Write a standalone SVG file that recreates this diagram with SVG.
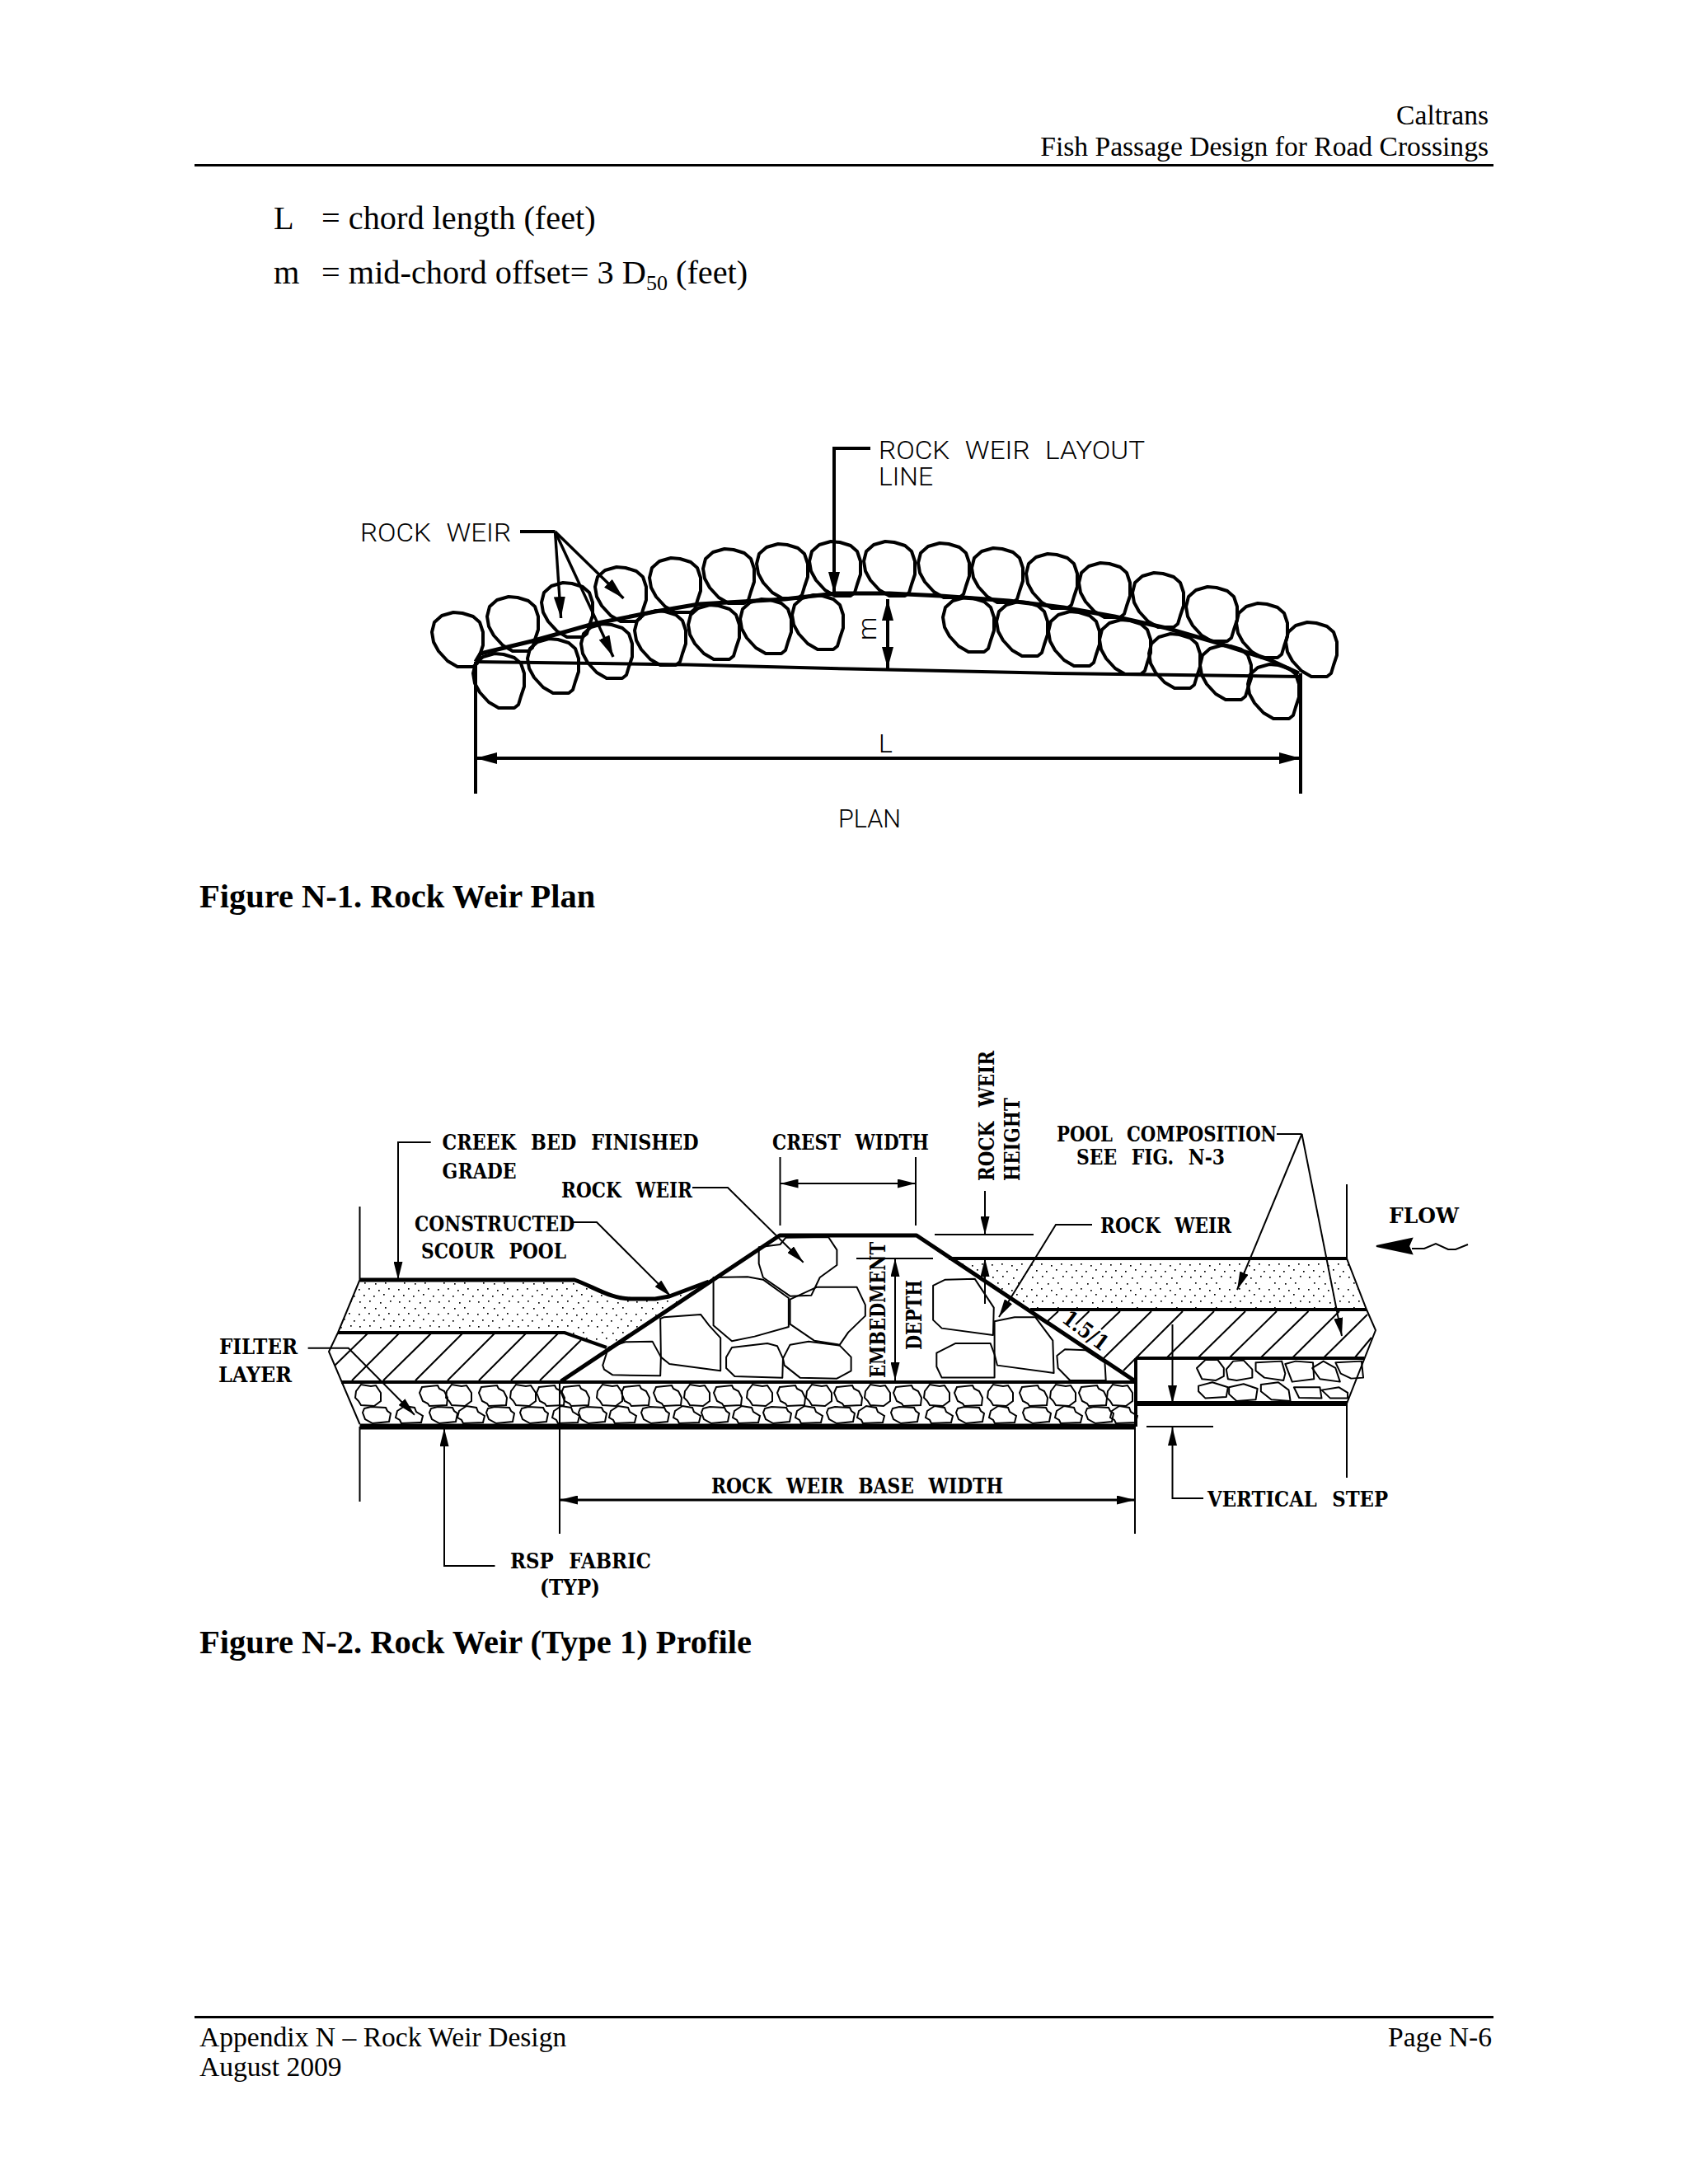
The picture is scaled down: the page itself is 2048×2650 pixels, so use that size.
<svg xmlns="http://www.w3.org/2000/svg" width="2048" height="2650" viewBox="0 0 2048 2650">
<style>
.pg{font-family:"Liberation Serif","Times New Roman",serif;fill:#000}
.hd{font-size:33.6px}.bd{font-size:40.3px}.cap{font-size:40.5px;font-weight:bold}
.pl{font-family:Roboto,"Liberation Sans",Arial,sans-serif;font-weight:300;font-size:32px;fill:#000;word-spacing:10px}
.cd{font-family:"DejaVu Serif",serif;font-weight:bold;font-size:26px;fill:#000;word-spacing:12px}
.rk{fill:none;stroke:#000;stroke-width:4;stroke-linejoin:round}
.th{fill:none;stroke:#000;stroke-width:2}
.md{fill:none;stroke:#000;stroke-width:3.4}
.wd{fill:none;stroke:#000;stroke-width:4}
.hv{fill:none;stroke:#000;stroke-width:5;stroke-linejoin:round}
.sr{fill:none;stroke:#000;stroke-width:2;stroke-linejoin:round;vector-effect:non-scaling-stroke}
</style>
<defs>
<marker id="ah" viewBox="0 0 26 14" refX="26" refY="7" markerWidth="26" markerHeight="14" markerUnits="userSpaceOnUse" orient="auto-start-reverse"><path d="M0 0L26 7L0 14Z"/></marker>
<marker id="ahs" viewBox="0 0 24 12" refX="24" refY="6" markerWidth="22" markerHeight="11" markerUnits="userSpaceOnUse" orient="auto-start-reverse"><path d="M0 0L24 6L0 12Z"/></marker>
<pattern id="sand" width="48" height="30" patternUnits="userSpaceOnUse"><g fill="#000"><rect x="3" y="4" width="1.7" height="1.7"/><rect x="15" y="3" width="1.7" height="1.7"/><rect x="27" y="5" width="1.7" height="1.7"/><rect x="39" y="3" width="1.7" height="1.7"/><rect x="9" y="11" width="1.7" height="1.7"/><rect x="21" y="12" width="1.7" height="1.7"/><rect x="33" y="10" width="1.7" height="1.7"/><rect x="45" y="12" width="1.7" height="1.7"/><rect x="4" y="19" width="1.7" height="1.7"/><rect x="16" y="18" width="1.7" height="1.7"/><rect x="29" y="20" width="1.7" height="1.7"/><rect x="41" y="18" width="1.7" height="1.7"/><rect x="10" y="26" width="1.7" height="1.7"/><rect x="23" y="27" width="1.7" height="1.7"/><rect x="35" y="26" width="1.7" height="1.7"/></g></pattern>
<path id="pr" class="rk" d="M26 0L37 1L50 5L58 12L62 24L62 40L58 52L55 62L50 66L31 66L19 59L8 47L2 36L0 24L3 12L12 4Z"/>
<path id="ra" class="th" d="M3 3L22 1L24 5L30 8L34 16L33 25L12 26L10 23L4 20L0 10Z"/>
<path id="rb" class="th" d="M2 8L8 0L20 2L26 1L32 10L32 20L24 26L8 25L5 20L1 16Z"/>
<path id="rc" class="th" d="M2 3L10 1L28 2L30 6L34 9L32 19L12 21L3 16L0 8Z"/>
<path id="rd" class="th" d="M3 6L12 0L24 2L26 7L34 12L32 20L8 21L6 17L1 14Z"/>
</defs>
<rect width="2048" height="2650" fill="#fff"/>

<g id="header" class="pg hd">
<text x="1806" y="151" text-anchor="end">Caltrans</text>
<text x="1806" y="189" text-anchor="end">Fish Passage Design for Road Crossings</text>
<rect x="236" y="199" width="1576" height="3" fill="#000"/>
</g>
<g id="definitions" class="pg bd">
<text x="332" y="278">L</text><text x="390" y="278">= chord length (feet)</text>
<text x="332" y="344">m</text><text x="390" y="344">= mid-chord offset= 3 D<tspan font-size="26" dy="8">50</tspan><tspan dy="-8"> (feet)</tspan></text>
</g>

<g id="plan-rocks-upstream">
<use href="#pr" x="524" y="743"/><use href="#pr" x="591" y="724"/><use href="#pr" x="657" y="707"/><use href="#pr" x="722" y="688"/><use href="#pr" x="788" y="677"/><use href="#pr" x="853" y="666"/><use href="#pr" x="918" y="660"/><use href="#pr" x="982" y="657"/><use href="#pr" x="1048" y="657"/><use href="#pr" x="1114" y="659"/><use href="#pr" x="1179" y="665"/><use href="#pr" x="1245" y="672"/><use href="#pr" x="1309" y="683"/><use href="#pr" x="1374" y="695"/><use href="#pr" x="1439" y="712"/><use href="#pr" x="1500" y="732"/><use href="#pr" x="1560" y="755"/>
</g>
<g id="plan-rocks-downstream">
<use href="#pr" x="574" y="793"/><use href="#pr" x="640" y="775"/><use href="#pr" x="705" y="757"/><use href="#pr" x="770" y="741"/><use href="#pr" x="835" y="734"/><use href="#pr" x="898" y="727"/><use href="#pr" x="961" y="722"/><use href="#pr" x="1144" y="725"/><use href="#pr" x="1209" y="730"/><use href="#pr" x="1272" y="742"/><use href="#pr" x="1334" y="752"/><use href="#pr" x="1394" y="769"/><use href="#pr" x="1456" y="783"/><use href="#pr" x="1514" y="806"/>
</g>
<g id="plan-lines">
<path class="hv" d="M577 803L583 793L645 778L720 757L795 742L848 733L952 727L1014 720L1079 720L1141 723L1224 729L1290 737L1352 748L1415 762L1477 780L1539 800L1576 817"/>
<path class="wd" d="M577 803L834 806.5L1030 811.5L1280 817L1578 821"/>
<path class="wd" d="M577 803V963M1578 817V963"/>
</g>
<g id="plan-labels">
<text class="pl" x="437" y="657" textLength="183" lengthAdjust="spacingAndGlyphs">ROCK WEIR</text>
<text class="pl" x="1066" y="556.5" textLength="323" lengthAdjust="spacingAndGlyphs">ROCK WEIR LAYOUT</text>
<text class="pl" x="1066" y="589" textLength="66" lengthAdjust="spacingAndGlyphs">LINE</text>
<text class="pl" transform="translate(1063 777) rotate(-90)">m</text>
<text class="pl" x="1066" y="913">L</text>
<text class="pl" x="1017" y="1004" textLength="76" lengthAdjust="spacingAndGlyphs">PLAN</text>
</g>
<g id="plan-connectors">
<path class="wd" d="M631 645H673.5"/>
<path class="md" marker-end="url(#ah)" d="M673.5 645L680.6 750"/>
<path class="md" marker-end="url(#ah)" d="M673.5 645L744 797"/>
<path class="md" marker-end="url(#ah)" d="M673.5 645L756.5 726"/>
<path class="wd" marker-end="url(#ah)" d="M1056 544H1012V720"/>
<path class="wd" marker-start="url(#ah)" marker-end="url(#ah)" d="M1077 727V811"/>
<path class="wd" marker-start="url(#ah)" marker-end="url(#ah)" d="M577 920H1578"/>
</g>
<text id="caption-1" class="pg cap" x="242" y="1101">Figure N-1. Rock Weir Plan</text>

<g id="profile-layers">
<path fill="url(#sand)" d="M436.5 1553H697L766 1576H801L812 1573L860 1555L736 1635L685 1617H410Z"/>
<path fill="url(#sand)" d="M1151 1527H1634L1658 1589H1250Z"/>
<g class="th">
<path d="M436.5 1464V1553L410 1617L399 1640L436.5 1728"/>
<path d="M1634 1437V1527L1658 1589L1669 1614L1634 1703V1793"/>
<path d="M446 1618L406 1657M484 1618L427 1675M523 1618L465 1675M561 1618L504 1675M600 1618L543 1675M638 1618L581 1675M677 1618L620 1675M705 1626L655 1675"/>
<path d="M1284 1591L1271 1603M1321.5 1591L1305 1607M1359 1591L1336 1613M1397 1591L1339 1648M1435 1591L1363 1663M1473 1591L1416 1647M1511 1591L1454 1647M1549 1591L1492 1647M1587.5 1591L1530 1647M1625 1591L1568.5 1647M1659 1595L1606.4 1647M1664 1623L1644 1647"/>
</g>
<path class="hv" d="M436.5 1553H697C720 1561 740 1576 766 1576H795L812 1573L860 1555"/>
<path class="hv" d="M680.6 1676L946 1499H1112L1376 1675"/>
<path class="wd" d="M410 1617H685L736 1635"/>
<path class="wd" d="M414 1677H1376"/>
<path d="M436.5 1731H1376" fill="none" stroke="#000" stroke-width="7"/>
<path class="wd" d="M1151 1527H1634M1250 1589H1658M1378 1648H1655M1378 1648V1731"/>
<path d="M1378 1703H1634" fill="none" stroke="#000" stroke-width="6"/>
</g>

<g id="weir-rocks-left" transform="translate(640 1400) scale(.3444 .3333)">
<path class="sr" d="M265 770L285 705L345 685L440 683L470 740L468 808L300 805L270 785Z"/>
<path class="sr" d="M468 600L480 595L610 585L640 625L680 670L680 790L500 765L470 740Z"/>
<path class="sr" d="M655 450L775 448L830 458L920 525L920 630L800 665L720 682L655 625Z"/>
<path class="sr" d="M815 340L890 330L910 305L1060 303L1090 350L1090 405L1030 450L1000 515L925 518L830 450L815 400Z"/>
<path class="sr" d="M925 530L1020 485L1160 485L1190 550L1190 590L1130 650L1100 695L1010 680L925 620Z"/>
<path class="sr" d="M700 740L720 705L845 690L880 700L900 745L898 815L730 810L700 780Z"/>
<path class="sr" d="M900 745L925 695L990 683L1100 698L1140 740L1140 790L1090 818L960 815L905 770Z"/>
</g>
<g id="weir-rocks-right" transform="translate(1130 1240) scale(.4209 .3333)">
<path class="sr" d="M5 960L40 938L125 935L180 1040L178 1140L30 1115L5 1085Z"/>
<path class="sr" d="M15 1205L70 1170L170 1170L182 1210L182 1295L30 1295L15 1255Z"/>
<path class="sr" d="M182 1090L240 1075L300 1075L350 1160L353 1278L190 1250L182 1210Z"/>
<path class="sr" d="M362 1215L385 1192L445 1195L500 1240L503 1305L400 1305L365 1260Z"/>
<path class="sr" d="M765 1260L790 1230L825 1230L843 1260L843 1290L820 1305L780 1300Z"/>
<path class="sr" d="M850 1265L870 1235L900 1232L925 1265L925 1295L880 1305L855 1300Z"/>
<path class="sr" d="M935 1240L1010 1235L1020 1280L1015 1305L960 1295L935 1270Z"/>
<path class="sr" d="M1020 1245L1050 1235L1100 1240L1103 1300L1040 1310Z"/>
<path class="sr" d="M1098 1260L1130 1235L1165 1260L1178 1310L1120 1300Z"/>
<path class="sr" d="M1165 1240L1240 1235L1245 1295L1210 1298L1180 1280Z"/>
<path class="sr" d="M770 1325L810 1312L855 1330L850 1365L790 1370L770 1345Z"/>
<path class="sr" d="M858 1330L900 1318L940 1335L935 1375L880 1380L858 1355Z"/>
<path class="sr" d="M950 1320L1000 1312L1030 1340L1035 1380L980 1375L950 1345Z"/>
<path class="sr" d="M1045 1330L1120 1330L1125 1370L1060 1368Z"/>
<path class="sr" d="M1125 1340L1175 1330L1200 1350L1200 1370L1150 1370Z"/>
</g>
<g id="base-rocks-upper">
<use href="#rb" x="430" y="1680"/><use href="#ra" x="509" y="1680"/><use href="#rb" x="540" y="1680"/><use href="#ra" x="581" y="1680"/><use href="#rb" x="618" y="1680"/><use href="#ra" x="651" y="1680"/><use href="#ra" x="681" y="1680"/><use href="#rb" x="723" y="1680"/><use href="#ra" x="754" y="1680"/><use href="#ra" x="793" y="1680"/><use href="#rb" x="829" y="1680"/><use href="#ra" x="866" y="1680"/><use href="#rb" x="905" y="1680"/><use href="#ra" x="943" y="1680"/><use href="#rb" x="977" y="1680"/><use href="#ra" x="1012" y="1680"/><use href="#rb" x="1048" y="1680"/><use href="#ra" x="1084" y="1680"/><use href="#rb" x="1120" y="1680"/><use href="#ra" x="1158" y="1680"/><use href="#rb" x="1197" y="1680"/><use href="#ra" x="1237" y="1680"/><use href="#rb" x="1273" y="1680"/><use href="#ra" x="1309" y="1680"/><use href="#rb" x="1342" y="1680"/>
</g>
<g id="base-rocks-lower">
<use href="#rc" x="440" y="1706"/><use href="#rd" x="479" y="1706"/><use href="#rc" x="521" y="1706"/><use href="#rd" x="554" y="1706"/><use href="#rc" x="590" y="1706"/><use href="#rc" x="631" y="1706"/><use href="#rd" x="669" y="1706"/><use href="#rc" x="702" y="1706"/><use href="#rd" x="738" y="1706"/><use href="#rc" x="778" y="1706"/><use href="#rd" x="816" y="1706"/><use href="#rc" x="851" y="1706"/><use href="#rd" x="888" y="1706"/><use href="#rc" x="926" y="1706"/><use href="#rd" x="964" y="1706"/><use href="#rc" x="1003" y="1706"/><use href="#rd" x="1039" y="1706"/><use href="#rc" x="1081" y="1706"/><use href="#rd" x="1122" y="1706"/><use href="#rc" x="1160" y="1706"/><use href="#rd" x="1199" y="1706"/><use href="#rc" x="1241" y="1706"/><use href="#rd" x="1279" y="1706"/><use href="#rc" x="1317" y="1706"/><use href="#rd" x="1346" y="1706"/>
</g>

<g id="profile-connectors" class="th">
<path marker-end="url(#ahs)" d="M522.7 1386H483V1552.7"/>
<path marker-end="url(#ahs)" d="M840 1441H883L974.7 1531.7"/>
<path marker-end="url(#ahs)" d="M695 1483H724L814 1573"/>
<path marker-end="url(#ahs)" d="M373.6 1635.7H422.7L503 1716.7"/>
<path d="M946.5 1404V1487M1111 1404V1487"/>
<path marker-start="url(#ahs)" marker-end="url(#ahs)" d="M946.5 1436H1111"/>
<path d="M1039 1527H1132M1134 1498H1254"/>
<path marker-start="url(#ahs)" marker-end="url(#ahs)" d="M1086 1527V1675"/>
<path marker-end="url(#ahs)" d="M1195 1445V1498"/>
<path marker-end="url(#ahs)" d="M1195 1582V1527"/>
<path d="M1549 1376H1579.5"/>
<path marker-end="url(#ahs)" d="M1579.5 1376L1501 1565"/>
<path marker-end="url(#ahs)" d="M1579.5 1376L1628 1621"/>
<path marker-end="url(#ahs)" d="M1325 1486H1281L1212 1598"/>
<path marker-end="url(#ahs)" d="M1422.5 1607V1703"/>
<path d="M1391 1731H1472"/>
<path marker-end="url(#ahs)" d="M1460 1818H1422.5V1732"/>
<path marker-start="url(#ahs)" marker-end="url(#ahs)" stroke-width="3" d="M679 1820H1377"/>
<path d="M679 1677V1861M1377 1731V1861M436.5 1731V1822"/>
<path marker-end="url(#ahs)" d="M600.5 1900H539V1733"/>
<path d="M1713 1515L1728 1515L1742 1509L1757 1516L1766 1516L1781 1510"/>
<path d="M1670 1512L1713 1503L1709 1512L1713 1521Z" fill="#000"/>
</g>
<g id="profile-labels">
<text class="cd" x="536.6" y="1395" textLength="311" lengthAdjust="spacingAndGlyphs">CREEK BED FINISHED</text>
<text class="cd" x="536.6" y="1430" textLength="90" lengthAdjust="spacingAndGlyphs">GRADE</text>
<text class="cd" x="937" y="1395" textLength="190" lengthAdjust="spacingAndGlyphs">CREST WIDTH</text>
<text class="cd" x="681" y="1453" textLength="159" lengthAdjust="spacingAndGlyphs">ROCK WEIR</text>
<text class="cd" x="503" y="1494" textLength="194" lengthAdjust="spacingAndGlyphs">CONSTRUCTED</text>
<text class="cd" x="511" y="1527" textLength="176" lengthAdjust="spacingAndGlyphs">SCOUR POOL</text>
<text class="cd" x="266" y="1643" textLength="95" lengthAdjust="spacingAndGlyphs">FILTER</text>
<text class="cd" x="265" y="1677" textLength="89" lengthAdjust="spacingAndGlyphs">LAYER</text>
<text class="cd" x="1282" y="1385" textLength="267" lengthAdjust="spacingAndGlyphs">POOL COMPOSITION</text>
<text class="cd" x="1306" y="1413" textLength="180" lengthAdjust="spacingAndGlyphs">SEE FIG. N-3</text>
<text class="cd" x="1335" y="1496" textLength="159" lengthAdjust="spacingAndGlyphs">ROCK WEIR</text>
<text class="cd" x="1685" y="1484" textLength="85" lengthAdjust="spacingAndGlyphs" font-size="29">FLOW</text>
<text class="cd" x="863" y="1812" textLength="354" lengthAdjust="spacingAndGlyphs">ROCK WEIR BASE WIDTH</text>
<text class="cd" x="1465" y="1828" textLength="219" lengthAdjust="spacingAndGlyphs">VERTICAL STEP</text>
<text class="cd" x="619" y="1903" textLength="171" lengthAdjust="spacingAndGlyphs">RSP FABRIC</text>
<text class="cd" x="655" y="1935" textLength="73" lengthAdjust="spacingAndGlyphs">(TYP)</text>
<text class="cd" transform="translate(1074 1672) rotate(-90)" textLength="165" lengthAdjust="spacingAndGlyphs">EMBEDMENT</text>
<text class="cd" transform="translate(1118 1638) rotate(-90)" textLength="85" lengthAdjust="spacingAndGlyphs">DEPTH</text>
<text class="cd" transform="translate(1206 1433) rotate(-90)" textLength="158" lengthAdjust="spacingAndGlyphs">ROCK WEIR</text>
<text class="cd" transform="translate(1236.5 1433) rotate(-90)" textLength="101" lengthAdjust="spacingAndGlyphs">HEIGHT</text>
<text class="cd" transform="translate(1287 1603) rotate(37)" textLength="62" lengthAdjust="spacingAndGlyphs">1.5/1</text>
</g>
<text id="caption-2" class="pg cap" x="242" y="2006">Figure N-2. Rock Weir (Type 1) Profile</text>

<g id="footer" class="pg hd">
<rect x="236" y="2446" width="1576" height="3" fill="#000"/>
<text x="242" y="2483">Appendix N – Rock Weir Design</text>
<text x="1810" y="2483" text-anchor="end">Page N-6</text>
<text x="242" y="2519">August 2009</text>
</g>
</svg>
